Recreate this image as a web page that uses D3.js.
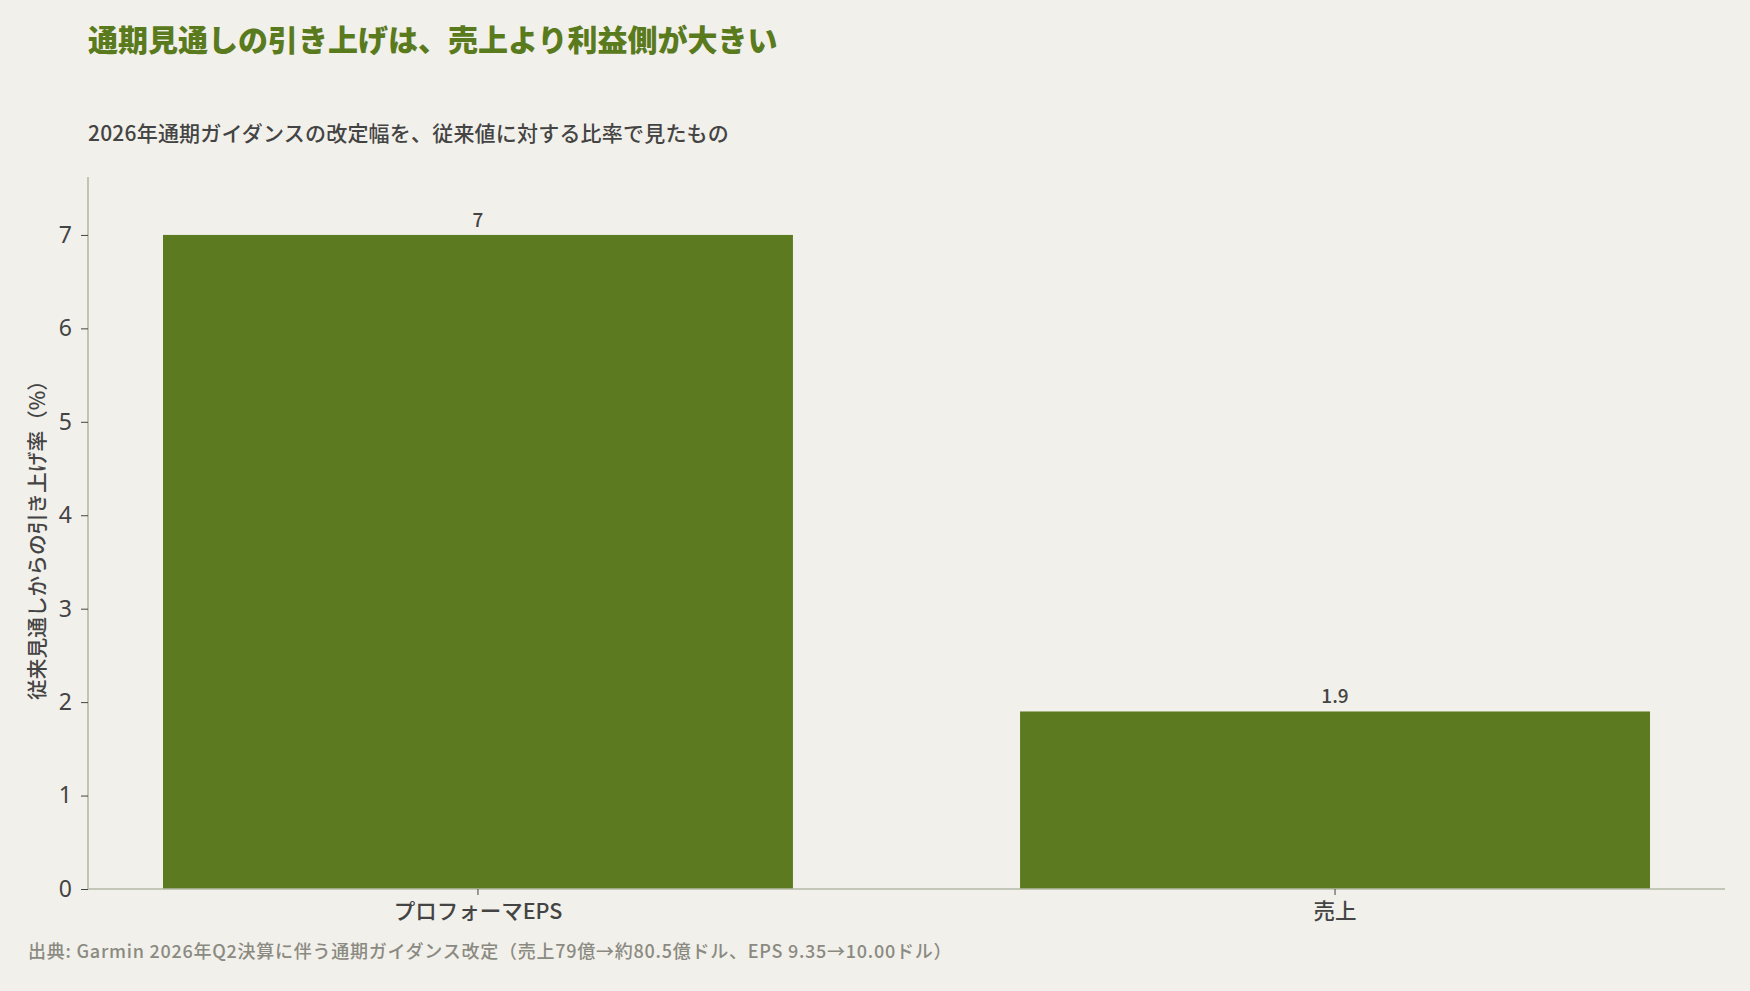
<!DOCTYPE html>
<html>
<head>
<meta charset="utf-8">
<script src="https://cdn.jsdelivr.net/npm/d3@7"></script>
<style>
  html, body { margin: 0; padding: 0; background: #f2f0ea; }
  svg { display: block; }
  text { font-family: "Noto Sans CJK JP", "Noto Sans", sans-serif; }
</style>
</head>
<body>
<script>
'use strict';

// chart data
const categories = ["プロフォーマEPS", "売上"];
const raiseRates = [7, 1.9];
const valueLabels = ["7", "1.9"];
const yTicks = [0, 1, 2, 3, 4, 5, 6, 7];

const titleText = "通期見通しの引き上げは、売上より利益側が大きい";
const subtitleText = "2026年通期ガイダンスの改定幅を、従来値に対する比率で見たもの";
const yLabelText = "従来見通しからの引き上げ率（%）";
const sourceText = "出典: Garmin 2026年Q2決算に伴う通期ガイダンス改定（売上79億→約80.5億ドル、EPS 9.35→10.00ドル）";

const width = 1750, height = 991;
const margin = { left: 88, right: 25, top: 177, bottom: 102 };

const svg = d3.select("body").append("svg")
  .attr("width", width)
  .attr("height", height);

svg.append("rect")
  .attr("width", width)
  .attr("height", height)
  .attr("fill", "#f2f0ea");

// scales
const x = d3.scaleBand()
  .domain(categories)
  .range([margin.left, width - margin.right])
  .paddingInner(0.265)
  .paddingOuter(0.0875);

const y = d3.scaleLinear()
  .domain([0, 7.62])
  .range([height - margin.bottom, margin.top]);

// bars
svg.selectAll(".bar")
  .data(categories)
  .enter()
  .append("rect")
    .attr("class", "bar")
    .attr("x", d => x(d))
    .attr("y", (d, i) => y(raiseRates[i]))
    .attr("width", x.bandwidth())
    .attr("height", (d, i) => y(0) - y(raiseRates[i]))
    .attr("fill", "#5c7a1f");

// value labels above bars
svg.selectAll(".val")
  .data(categories)
  .enter()
  .append("text")
    .attr("class", "val")
    .attr("x", d => x(d) + x.bandwidth() / 2)
    .attr("y", (d, i) => y(raiseRates[i]) - 8)
    .attr("text-anchor", "middle")
    .attr("fill", "#444444")
    .style("font-size", "19px")
    .style("font-weight", "500")
    .text((d, i) => valueLabels[i]);

// y axis
const yAxis = d3.axisLeft(y)
  .tickValues(yTicks)
  .tickFormat(d3.format("d"))
  .tickSize(7)
  .tickPadding(9);

const gy = svg.append("g")
  .attr("transform", `translate(${margin.left}, 0)`)
  .call(yAxis);
gy.select(".domain")
  .attr("stroke", "#b3baa6")
  .attr("stroke-width", 1.6)
  .attr("d", `M0,${margin.top}V${y(0)}`);
gy.selectAll(".tick line").attr("stroke", "#444444");
gy.selectAll(".tick text")
  .attr("fill", "#444444")
  .style("font-size", "23px")
  .style("font-family", "'Noto Sans', 'DejaVu Sans', sans-serif");

// x axis
const xAxis = d3.axisBottom(x)
  .tickSize(6)
  .tickPadding(9);

const gx = svg.append("g")
  .attr("transform", `translate(0, ${y(0)})`)
  .call(xAxis);
gx.select(".domain")
  .attr("stroke", "#b3baa6")
  .attr("stroke-width", 1.6)
  .attr("d", `M${margin.left},0H${width - margin.right}`);
gx.selectAll(".tick line").attr("stroke", "#444444");
gx.selectAll(".tick text")
  .attr("fill", "#444444")
  .style("font-size", "21.5px")
  .style("font-weight", "500");

// titles
svg.append("text")
  .attr("x", 88)
  .attr("y", 51)
  .attr("fill", "#5a7a1e")
  .style("font-size", "30px")
  .style("font-weight", "900")
  .text(titleText);

svg.append("text")
  .attr("x", 88)
  .attr("y", 141)
  .attr("fill", "#444444")
  .style("font-size", "21px")
  .style("font-weight", "500")
  .style("letter-spacing", "0.2px")
  .text(subtitleText);

// y axis label
svg.append("text")
  .attr("transform", `translate(45, ${(y(0) + margin.top) / 2 + 2}) rotate(-90)`)
  .attr("text-anchor", "middle")
  .attr("fill", "#444444")
  .style("font-size", "20.7px")
  .style("font-weight", "500")
  .text(yLabelText);

// source note
svg.append("text")
  .attr("x", 28)
  .attr("y", 958)
  .attr("fill", "#8a8a82")
  .style("font-size", "18px")
  .style("font-weight", "500")
  .style("letter-spacing", "0.75px")
  .text(sourceText);
</script>
</body>
</html>
